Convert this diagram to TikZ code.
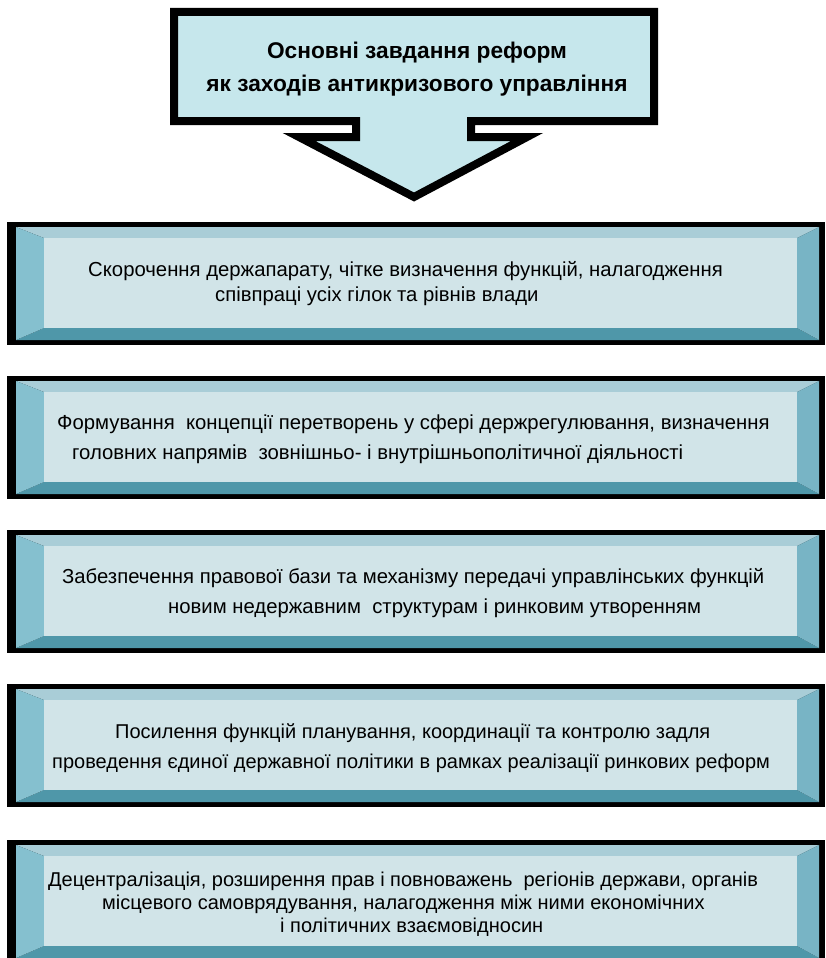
\documentclass[tikz,border=0pt]{standalone}
\usepackage{fontspec}
\setmainfont{Liberation Sans}
\usepackage{tikz}
\usetikzlibrary{positioning}

\definecolor{arrowfill}{HTML}{C6E7EC}
\definecolor{facefill}{HTML}{D1E4E8}
\definecolor{bevtop}{HTML}{A9CDD7}
\definecolor{bevleft}{HTML}{85C0CF}
\definecolor{bevright}{HTML}{78B4C5}
\definecolor{bevbottom}{HTML}{4F97A9}

\begin{document}
\begin{tikzpicture}[
    x=1pt, y=-1pt,
    headarrow/.style={draw=black, line width=8pt, miter limit=10, fill=arrowfill},
    titletext/.style={align=center, inner sep=0pt, font=\bfseries\fontsize{22.7}{33}\selectfont},
    boxtext/.style={anchor=west, align=left, inner sep=0pt, font=\fontsize{20.3}{30}\selectfont}
]
\useasboundingbox (0,0) rectangle (826,958);

% top block arrow
\draw[headarrow] (174,12) -- (654,12) -- (654,121) -- (471,121) -- (471,137)
    -- (527,137) -- (414,197) -- (299,137) -- (356,137) -- (356,121)
    -- (174,121) -- cycle;
\node[titletext] (title) at (417,69) {Основні завдання реформ\\як заходів антикризового управління};

% bevelled boxes
\foreach \t in {222,376,530,684,840} {
    \fill[black] (7,\t) rectangle (825,{\t+123});
    \fill[bevtop] (16,{\t+5}) -- (819,{\t+5}) -- (797,{\t+16}) -- (44,{\t+16}) -- cycle;
    \fill[bevbottom] (16,{\t+118}) -- (819,{\t+118}) -- (797,{\t+106}) -- (44,{\t+106}) -- cycle;
    \fill[bevleft] (16,{\t+5}) -- (44,{\t+16}) -- (44,{\t+106}) -- (16,{\t+118}) -- cycle;
    \fill[bevright] (819,{\t+5}) -- (797,{\t+16}) -- (797,{\t+106}) -- (819,{\t+118}) -- cycle;
    \fill[facefill] (44,{\t+16}) rectangle (797,{\t+106});
}

\node[boxtext, font=\fontsize{20.3}{25}\selectfont] (task1) at (88,284)
    {Скорочення держапарату, чітке визначення функцій, налагодження\\
     \hspace*{127pt}співпраці усіх гілок та рівнів влади};
\node[boxtext] (task2) at (57,439)
    {Формування\ \ концепції перетворень у сфері держрегулювання, визначення\\
     \hspace*{15pt}головних напрямів\ \ зовнішньо- і внутрішньополітичної діяльності};
\node[boxtext] (task3) at (62,593)
    {Забезпечення правової бази та механізму передачі управлінських функцій\\
     \hspace*{106pt}новим недержавним\ \ структурам і ринковим утворенням};
\node[boxtext, font=\fontsize{20}{30}\selectfont] (task4) at (52,748)
    {\hspace*{63pt}Посилення функцій планування, координації та контролю задля\\
     проведення єдиної державної політики в рамках реалізації ринкових реформ};
\node[boxtext, font=\fontsize{20}{23}\selectfont] (task5) at (48,904)
    {Децентралізація, розширення прав і повноважень\ \ регіонів держави, органів\\
     \hspace*{54pt}місцевого самоврядування, налагодження між ними економічних\\
     \hspace*{232pt}і політичних взаємовідносин};

\end{tikzpicture}
\end{document}
